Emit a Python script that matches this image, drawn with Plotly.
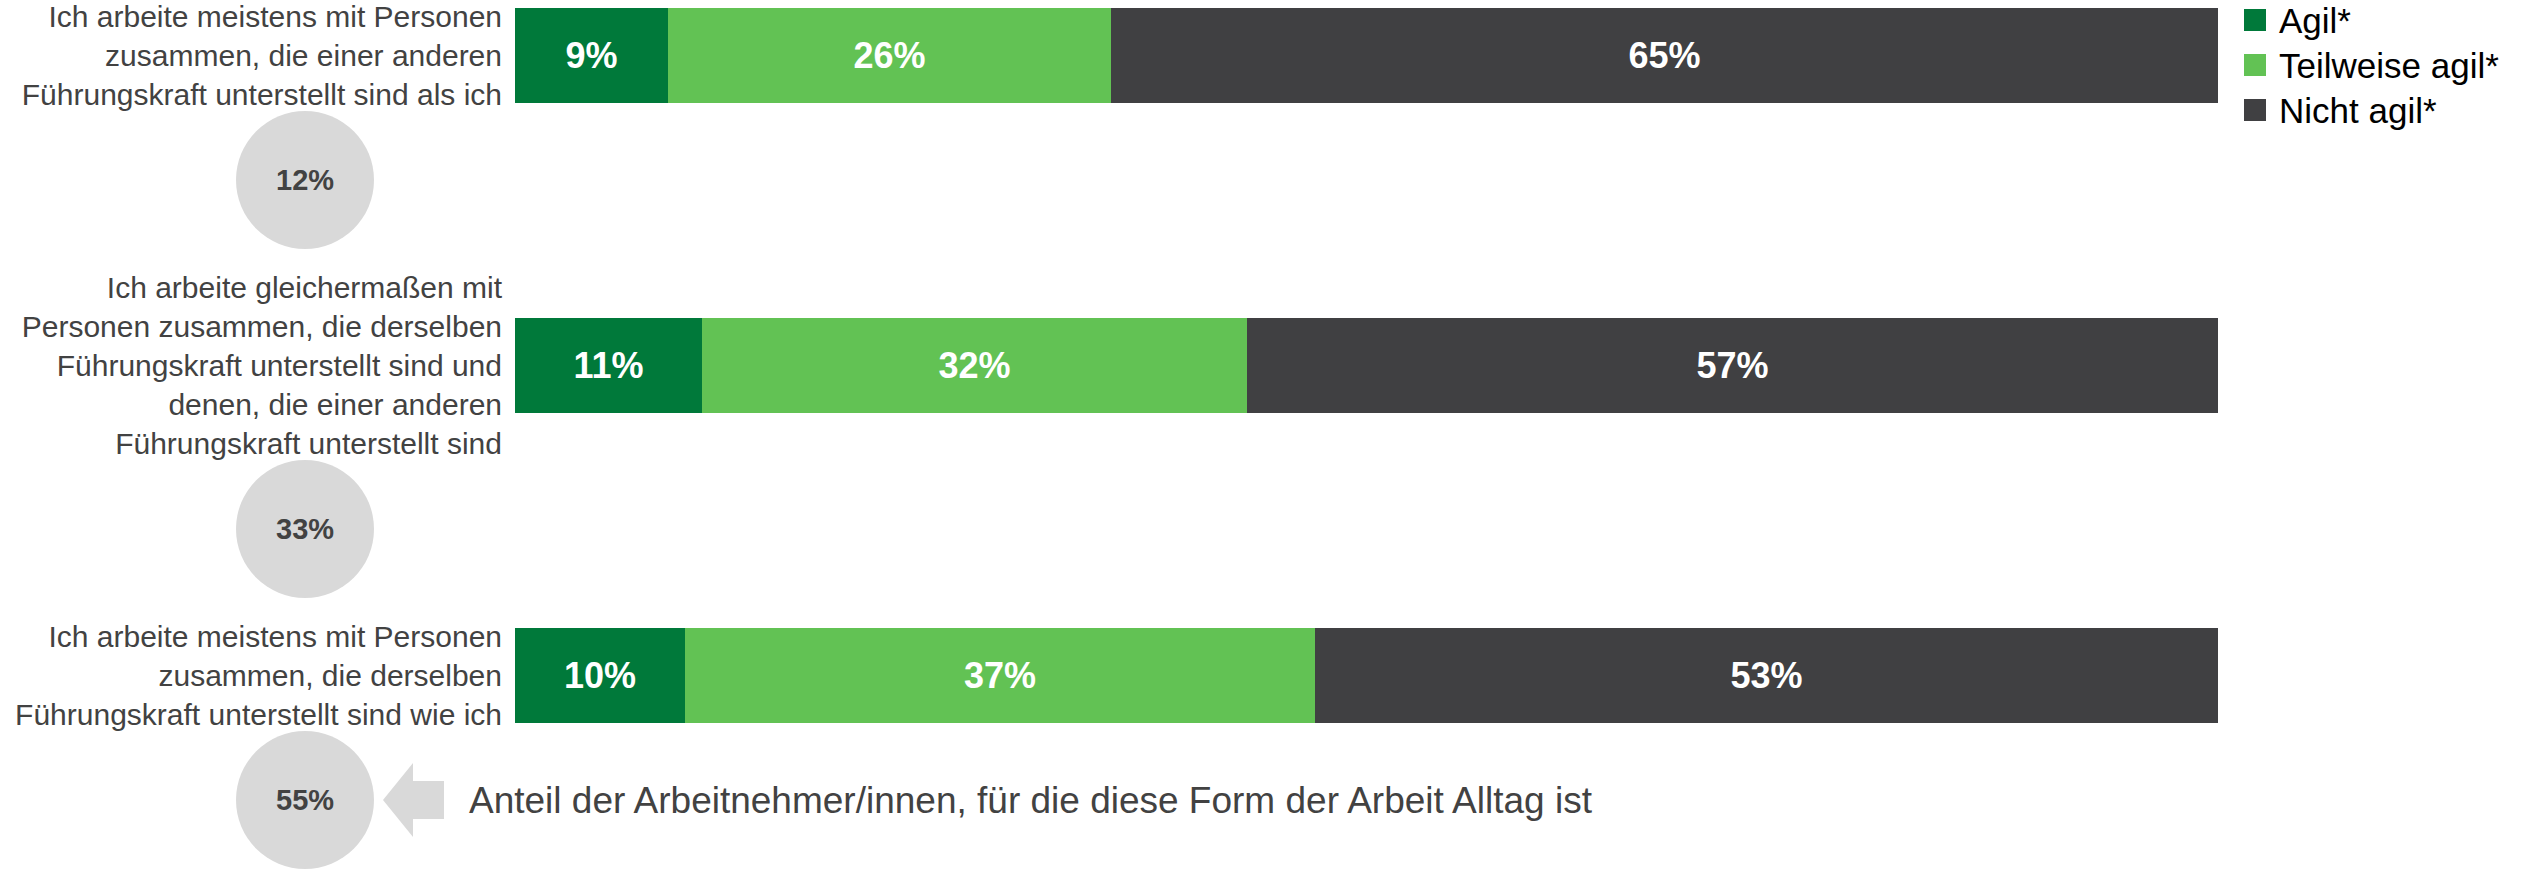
import plotly.graph_objects as go

# ---- data ----
categories = [
    "Ich arbeite meistens mit Personen<br>zusammen, die einer anderen<br>Führungskraft unterstellt sind als ich",
    "Ich arbeite gleichermaßen mit<br>Personen zusammen, die derselben<br>Führungskraft unterstellt sind und<br>denen, die einer anderen<br>Führungskraft unterstellt sind",
    "Ich arbeite meistens mit Personen<br>zusammen, die derselben<br>Führungskraft unterstellt sind wie ich",
]
series_names = ["Agil*", "Teilweise agil*", "Nicht agil*"]
agil = [9, 11, 10]
teilweise = [26, 32, 37]
nicht = [65, 57, 53]
alltag_share = [12, 33, 55]
note_text = "Anteil der Arbeitnehmer/innen, für die diese Form der Arbeit Alltag ist"

# ---- styles / layout constants ----
colors = ["#00793A", "#62C254", "#404042"]
TEXT_GREY = "#424242"
CIRCLE_GREY = "#D9D9D9"
FONT = "Liberation Sans, Arial, sans-serif"
W, H = 2524, 875
ML, MR = 515, 306
CAT_PX = 310.0          # pixels between category centres
TOP_PX = 55.5           # first bar centre from the top
BAR_PX = 95.0
LABEL_SIZE = 30
LINE_PX = LABEL_SIZE * 1.3
R = 69                  # circle radius in px
GAP = -3
CIRCLE_DX = 305 - ML    # circle centre relative to plot left edge

ypos = list(range(len(categories)))
series = [agil, teilweise, nicht]

fig = go.Figure()
for name, vals, col in zip(series_names, series, colors):
    fig.add_trace(go.Bar(
        y=ypos, x=vals, name=name, orientation="h",
        width=BAR_PX / CAT_PX,
        marker=dict(color=col, line=dict(width=0)),
        texttemplate="%{x}%", textposition="inside", insidetextanchor="middle",
        textangle=0,
        textfont=dict(family=FONT, size=36, color="white", weight="bold"),
        hoverinfo="skip", showlegend=False,
    ))

shapes = []
annotations = []

# circles with "Alltag" share under each label
circle_y = []
for i, (lab, share) in enumerate(zip(categories, alltag_share)):
    nlines = lab.count("<br>") + 1
    off = (nlines * LINE_PX / 2 + GAP + R) / CAT_PX
    cy = ypos[i] + off
    circle_y.append(cy)
    shapes.append(dict(
        type="circle", xref="paper", yref="y",
        xsizemode="pixel", ysizemode="pixel",
        xanchor=0, yanchor=cy,
        x0=CIRCLE_DX - R, x1=CIRCLE_DX + R, y0=-R, y1=R,
        fillcolor=CIRCLE_GREY, line=dict(width=0), layer="above",
    ))
    annotations.append(dict(
        xref="paper", yref="y", x=0, y=cy, xshift=CIRCLE_DX,
        text=f"{share}%", showarrow=False, xanchor="center", yanchor="middle",
        font=dict(family=FONT, size=29, color=TEXT_GREY, weight="bold"),
    ))

# arrow pointing to the last circle + explanatory note
cy = circle_y[-1]
shapes.append(dict(
    type="path", xref="paper", yref="y",
    xsizemode="pixel", ysizemode="pixel", xanchor=0, yanchor=cy,
    path="M-132,0 L-102,37 L-102,19 L-71,19 L-71,-19 L-102,-19 L-102,-37 Z",
    fillcolor=CIRCLE_GREY, line=dict(width=0),
))
annotations.append(dict(
    xref="paper", yref="y", x=0, y=cy, xshift=467 - ML,
    text=note_text, showarrow=False, xanchor="left", yanchor="middle",
    font=dict(family=FONT, size=37, color=TEXT_GREY),
))

# manual legend (large squares)
for i, (name, col) in enumerate(zip(series_names, colors)):
    top = 9 + 45 * i
    shapes.append(dict(
        type="rect", xref="paper", yref="paper",
        xsizemode="pixel", ysizemode="pixel", xanchor=1, yanchor=1,
        x0=26, x1=48, y0=-top, y1=-(top + 22),
        fillcolor=col, line=dict(width=0),
    ))
    annotations.append(dict(
        xref="paper", yref="paper", x=1, y=1, xshift=60, yshift=-(top + 11),
        text=name, showarrow=False, xanchor="left", yanchor="middle",
        borderpad=0,
        font=dict(family=FONT, size=35, color="black"),
    ))

y_top = -TOP_PX / CAT_PX
y_bot = (H - TOP_PX) / CAT_PX

fig.update_layout(
    width=W, height=H,
    margin=dict(l=ML, r=MR, t=0, b=0, pad=0),
    barmode="stack", bargap=0,
    paper_bgcolor="white", plot_bgcolor="white",
    showlegend=False,
    xaxis=dict(range=[0, 100], visible=False, fixedrange=True),
    yaxis=dict(
        range=[y_bot, y_top], tickmode="array", tickvals=ypos, ticktext=categories,
        showgrid=False, zeroline=False, showline=False, ticks="",
        ticklabelstandoff=12,
        tickfont=dict(family=FONT, size=LABEL_SIZE, color=TEXT_GREY),
        fixedrange=True,
    ),
    shapes=shapes, annotations=annotations,
)

fig.write_html("out.html", config={"displayModeBar": False},
               post_script="document.body.style.margin='0px';")
